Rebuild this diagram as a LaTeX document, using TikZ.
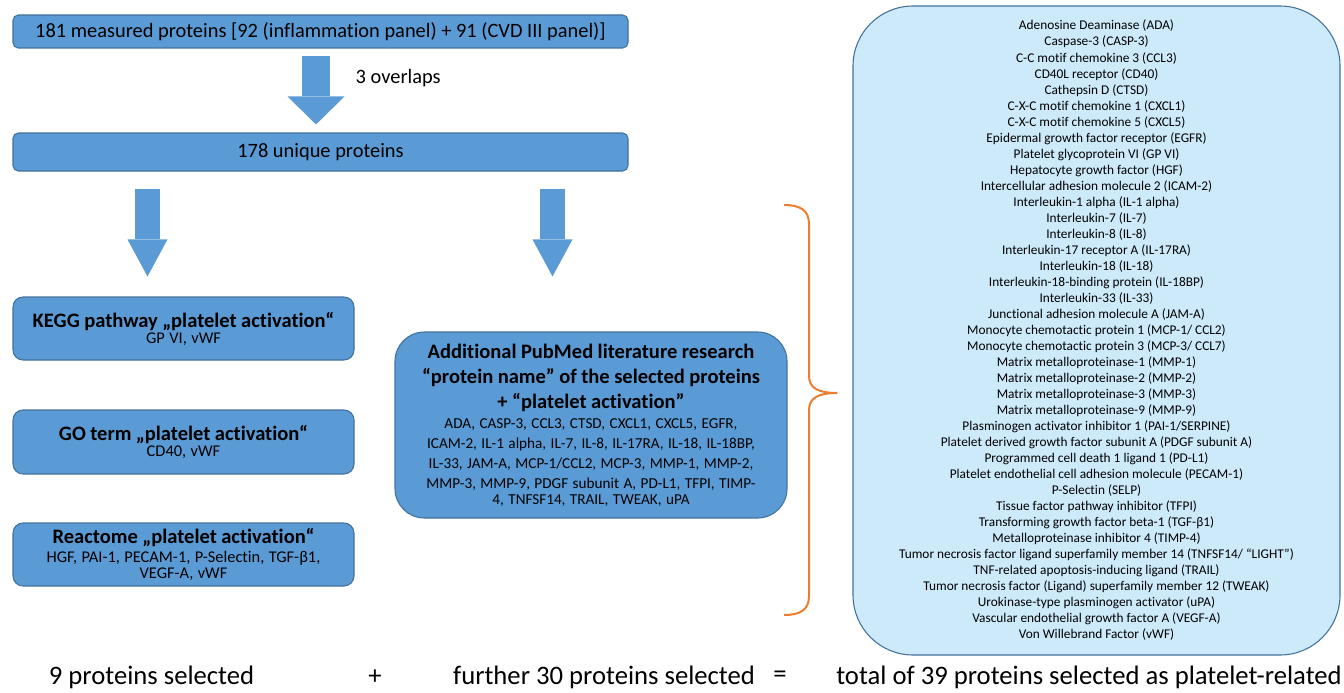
\documentclass[tikz,border=0pt]{standalone}
\usepackage{fontspec}
\setmainfont{Carlito}[Ligatures=NoCommon]
\usetikzlibrary{arrows.meta,calc,positioning}
\definecolor{boxblue}{RGB}{91,155,213}
\definecolor{boxedge}{RGB}{65,113,156}
\definecolor{listblue}{RGB}{205,234,251}
\definecolor{braceorange}{RGB}{237,125,49}
\newcommand{\fsz}[2]{\fontsize{#1}{#2}\selectfont}

\begin{document}
\begin{tikzpicture}[x=0.75pt,y=-0.75pt,
    stepbox/.style={draw=boxedge,fill=boxblue,line width=0.8pt,align=center,inner sep=0pt},
    fatarrow/.style={draw=boxblue,line width=#1},
    sumtext/.style={font=\fsz{20}{24}}]
  \useasboundingbox (0,0) rectangle (1344,692);

  % top row
  \node[stepbox,rounded corners=4pt,minimum width=461.25pt,minimum height=24.75pt,font=\fsz{15.3}{18}]
     (measured) at (320.5,31.5) {181 measured proteins [92 (inflammation panel) + 91 (CVD III panel)]};
  \node[stepbox,rounded corners=4pt,minimum width=461.25pt,minimum height=28.5pt,font=\fsz{15.3}{18}]
     (unique) at (320.5,152) {178 unique proteins};
  \node[font=\fsz{15.3}{18},anchor=west] (overlaps) at (351,78) {3 overlaps};

  % database boxes
  \node[stepbox,rounded corners=7.5pt,minimum width=255.75pt,minimum height=47.25pt,text width=250pt]
     (kegg) at (183.5,328.5) {{\fsz{15.4}{17}\bfseries KEGG pathway „platelet activation“\par}
     \fsz{12.3}{17.25}GP VI, vWF};
  \node[stepbox,rounded corners=7.5pt,minimum width=255.75pt,minimum height=48pt,text width=250pt]
     (goterm) at (183.5,442) {{\fsz{15.4}{17}\bfseries GO term „platelet activation“\par}
     \fsz{12.3}{17.25}CD40, vWF};
  \node[stepbox,rounded corners=7.5pt,minimum width=255.75pt,minimum height=47.25pt,text width=250pt]
     (reactome) at (183.5,554.5) {{\fsz{15.4}{16}\bfseries Reactome „platelet activation“\par}
     \fsz{12.3}{14.25}HGF, PAI-1, PECAM-1, P-Selectin, TGF-β1,\\ VEGF-A, vWF};

  % literature box
  \node[stepbox,rounded corners=22pt,minimum width=294pt,minimum height=139.5pt,text width=285pt]
     (pubmed) at (591,425) {{\fsz{15.4}{18.75}\bfseries Additional PubMed literature research\\
     “protein name” of the selected proteins\\ + “platelet activation”\par}
     \fsz{11.4}{15}ADA, CASP-3, CCL3, CTSD, CXCL1, CXCL5, EGFR,\\
     ICAM-2, IL-1 alpha, IL-7, IL-8, IL-17RA, IL-18, IL-18BP,\\
     IL-33, JAM-A, MCP-1/CCL2, MCP-3, MMP-1, MMP-2,\\
     MMP-3, MMP-9, PDGF subunit A, PD-L1, TFPI, TIMP-\\
     4, TNFSF14, TRAIL, TWEAK, uPA};

  % full protein list
  \node[draw=boxedge,fill=listblue,line width=0.8pt,rounded corners=45pt,align=center,
     minimum width=365.25pt,minimum height=486.75pt,font=\fsz{10}{12.02}]
     (list) at (1096.5,330.5) {Adenosine Deaminase (ADA)\\ Caspase-3 (CASP-3)\\
     C-C motif chemokine 3 (CCL3)\\ CD40L receptor (CD40)\\ Cathepsin D (CTSD)\\
     C-X-C motif chemokine 1 (CXCL1)\\ C-X-C motif chemokine 5 (CXCL5)\\
     Epidermal growth factor receptor (EGFR)\\ Platelet glycoprotein VI (GP VI)\\
     Hepatocyte growth factor (HGF)\\ Intercellular adhesion molecule 2 (ICAM-2)\\
     Interleukin-1 alpha (IL-1 alpha)\\ Interleukin-7 (IL-7)\\ Interleukin-8 (IL-8)\\
     Interleukin-17 receptor A (IL-17RA)\\ Interleukin-18 (IL-18)\\
     Interleukin-18-binding protein (IL-18BP)\\ Interleukin-33 (IL-33)\\
     Junctional adhesion molecule A (JAM-A)\\ Monocyte chemotactic protein 1 (MCP-1/ CCL2)\\
     Monocyte chemotactic protein 3 (MCP-3/ CCL7)\\ Matrix metalloproteinase-1 (MMP-1)\\
     Matrix metalloproteinase-2 (MMP-2)\\ Matrix metalloproteinase-3 (MMP-3)\\
     Matrix metalloproteinase-9 (MMP-9)\\ Plasminogen activator inhibitor 1 (PAI-1/SERPINE)\\
     Platelet derived growth factor subunit A (PDGF subunit A)\\
     Programmed cell death 1 ligand 1 (PD-L1)\\
     Platelet endothelial cell adhesion molecule (PECAM-1)\\ P-Selectin (SELP)\\
     Tissue factor pathway inhibitor (TFPI)\\ Transforming growth factor beta-1 (TGF-β1)\\
     Metalloproteinase inhibitor 4 (TIMP-4)\\
     Tumor necrosis factor ligand superfamily member 14 (TNFSF14/ “LIGHT”)\\
     TNF-related apoptosis-inducing ligand (TRAIL)\\
     Tumor necrosis factor (Ligand) superfamily member 12 (TWEAK)\\
     Urokinase-type plasminogen activator (uPA)\\
     Vascular endothelial growth factor A (VEGF-A)\\ Von Willebrand Factor (vWF)};

  % block arrows
  \draw[fatarrow=21pt,-{Triangle[length=21pt,width=42.75pt,line width=0pt]}]
     ($(measured.south)+(-4.5,7)$) -- ($(unique.north)+(-4.5,-8)$);
  \draw[fatarrow=18.75pt,-{Triangle[length=27.75pt,width=30pt,line width=0pt]}]
     ($(unique.south -| kegg.north)+(-36,17)$) -- ($(kegg.north)+(-36,-20)$);
  \draw[fatarrow=18.75pt,-{Triangle[length=27.75pt,width=30pt,line width=0pt]}]
     ($(unique.south -| pubmed.north)+(-38.5,17)$) -- ($(pubmed.north)+(-38.5,-55)$);

  % curly brace
  \coordinate (bracetip) at ($(list.west)+(-15,62.5)$);
  \draw[braceorange,line width=1.5pt]
     (784,205) .. controls (800,205) and (809,210) .. (809,224) -- (809,376)
     .. controls (809,388) and (818,393) .. (bracetip)
     .. controls (818,393) and (809,398) .. (809,410) -- (809,596)
     .. controls (809,610) and (800,615) .. (784,615);

  % totals
  \node[sumtext] (sel9) at (151.5,677) {9 proteins selected};
  \node[sumtext] (plus) at (375,677) {+};
  \node[sumtext] (sel30) at (604,677) {further 30 proteins selected};
  \node[sumtext] (equals) at (780,677) {=};
  \node[sumtext] (sel39) at (1089,677) {total of 39 proteins selected as platelet-related};
\end{tikzpicture}
\end{document}
